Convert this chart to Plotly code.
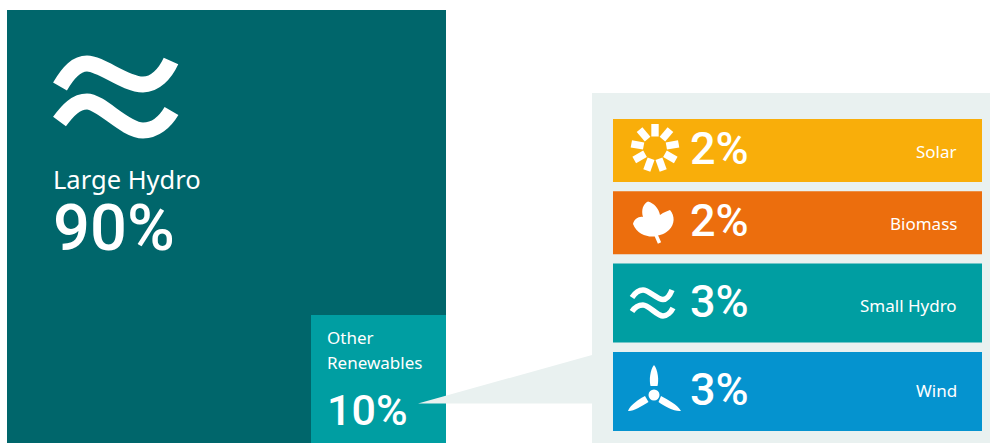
import math
import plotly.graph_objects as go

# --- data ---
overview_labels = ["Large Hydro", "Other", "Renewables"]
overview_values = [90, 10]
source_labels = ["Solar", "Biomass", "Small Hydro", "Wind"]
source_values = [2, 2, 3, 3]

# --- style / layout constants ---
W, H = 990, 443
DARK, TEAL, PANEL = "#00666B", "#009EA2", "#E9F1F0"
source_colors = ["#F9AE0A", "#EC6E0D", "#009EA2", "#0593CF"]
label_nudge = [1, 1, 2, -1]
BAR_L, BAR_R, BAR_TOP, GAP = 613, 982, 119, 9.3
PX_PER_PCT, PX_OFFSET = 16, 31     # bar height scale of the breakdown column
LABEL_FONT = "Noto Sans"
NUM_FONT = "Roboto"
WHITE = "#FFFFFF"

fig = go.Figure()

# overview boxes
fig.add_bar(x=[(7 + 446) / 2], y=[433], base=[10], width=[439],
            marker=dict(color=DARK, line=dict(width=0)), name=overview_labels[0])
fig.add_bar(x=[(311 + 446) / 2], y=[128], base=[315], width=[135],
            marker=dict(color=TEAL, line=dict(width=0)), name="Other Renewables")

# breakdown bars
heights = [PX_OFFSET + PX_PER_PCT * v for v in source_values]
bases, y = [], BAR_TOP
for h in heights:
    bases.append(y)
    y += h + GAP
fig.add_bar(x=[(BAR_L + BAR_R) / 2] * 4, y=heights, base=bases, width=[BAR_R - BAR_L] * 4,
            marker=dict(color=source_colors, line=dict(width=0)), text=None,
            customdata=source_labels, hovertemplate="%{customdata}<extra></extra>")

shapes = []
# panel + callout wedge
shapes.append(dict(type="rect", x0=592, x1=W, y0=93, y1=H, fillcolor=PANEL,
                   line_width=0, layer="below"))
shapes.append(dict(type="path", path="M418,403.5 L592,355 L592,403.5 Z", fillcolor=PANEL,
                   line_width=0, layer="above"))

def stroke(path, w):
    shapes.append(dict(type="path", path=path, line=dict(color=WHITE, width=w),
                       fillcolor="rgba(0,0,0,0)", layer="above"))

def fill(path):
    shapes.append(dict(type="path", path=path, fillcolor=WHITE, line_width=0, layer="above"))

# large waves
stroke("M60,86.5 C69,71 77,63.5 87,63.5 C101,63.5 125,84.5 143,84.5 C155,84.5 165,74 171,61", 16)
stroke("M59.5,121.5 C68,110 76,101.5 87,101.5 C101,101.5 125,130.5 143,130.5 C155,130.5 165,122 171.5,111", 16)
# small waves
stroke("M632,297.5 C635,293 639,290 643,290 C649,290 657,299.5 663,299.5 C667,299.5 670,295 672,290", 5.5)
stroke("M632,311.5 C635,307 639,305 643,305 C649,305 657,316 663,316 C667,316 671,312 673,308", 5.5)

# sun
cx, cy = 655, 148
for k in range(9):
    a = math.radians(k * 40)
    r0, r1, hw = 11.5, 24, 3.7
    ux, uy = math.sin(a), -math.cos(a)
    px, py = math.cos(a), math.sin(a)
    pts = [(cx + ux * r0 - px * hw, cy + uy * r0 - py * hw), (cx + ux * r1 - px * hw, cy + uy * r1 - py * hw),
           (cx + ux * r1 + px * hw, cy + uy * r1 + py * hw), (cx + ux * r0 + px * hw, cy + uy * r0 + py * hw)]
    fill("M" + " L".join(f"{p:.1f},{q:.1f}" for p, q in pts) + " Z")

# leaf
fill("M633,224 C634,219 639,216 643,217 C641,210 643,204 648,201.5 C654,203 659,209 660,215 "
     "C664,212 668,211 670,210 C675,216 675,224 669,230 C665,234 660,235 656,236 C650,238 637,235 633,224 Z")
stroke("M656,235 L659.5,243", 3.5)

# wind turbine
shapes.append(dict(type="circle", x0=648.5, x1=659.5, y0=389.5, y1=400.5, fillcolor=WHITE,
                   line_width=0, layer="above"))
fill("M654,365 C658,370 659,380 657.5,386 L650.5,386 C649,380 650,370 654,365 Z")
fill("M628,411 C630,405 639,399 645,396 L648.5,402 C642,406 632,412 628,411 Z")
fill("M681,411 C677,404 668,400 661,396 L658.5,402 C664,406 675,412 681,411 Z")

def text(x, y, s, size, family=LABEL_FONT, anchor="left", weight=400):
    return dict(x=x, y=y, text=s, xref="x", yref="y", showarrow=False, xanchor=anchor, yanchor="middle",
                align=anchor, font=dict(family=family, size=size, color=WHITE, weight=weight), borderpad=0)

ann = [
    text(52, 179, overview_labels[0], 25.5),
    text(52, 228, f"{overview_values[0]}%", 65, NUM_FONT, weight=500),
    text(326, 337, overview_labels[1], 17),
    text(326, 362, overview_labels[2], 17),
    text(326, 410, f"{overview_values[1]}%", 43, NUM_FONT, weight=500),
]
for lab, v, b, h, n in zip(source_labels, source_values, bases, heights, label_nudge):
    ann.append(text(689, b + h / 2 - 2, f"{v}%", 45, NUM_FONT, weight=500))
    ann.append(text(958, b + h / 2 + n, lab, 17, anchor="right"))

fig.update_layout(
    width=W, height=H, margin=dict(l=0, r=0, t=0, b=0), autosize=False,
    paper_bgcolor="white", plot_bgcolor="white", showlegend=False, barmode="overlay",
    xaxis=dict(range=[0, W], visible=False, fixedrange=True),
    yaxis=dict(range=[H, 0], visible=False, fixedrange=True),
    shapes=shapes, annotations=ann,
)
fig.write_html("out.html", config={"displayModeBar": False},
               post_script="document.body.style.margin='0';")
